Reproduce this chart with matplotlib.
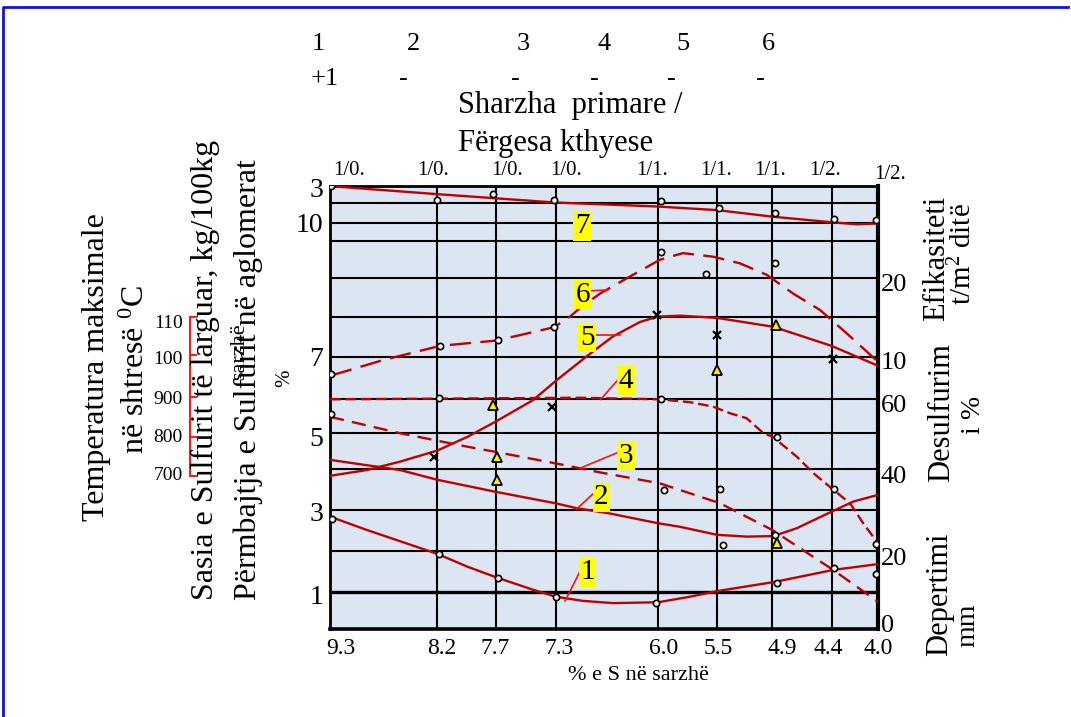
import matplotlib.pyplot as plt

plt.rcParams['font.family'] = ['Liberation Serif', 'DejaVu Serif']
plt.rcParams['mathtext.fontset'] = 'custom'
plt.rcParams['mathtext.rm'] = 'Liberation Serif'
plt.rcParams['mathtext.it'] = 'Liberation Serif:italic'

# --- data (x and y in plot units, 0..100 across the grid) ---
s_labels = ['9.3', '8.2', '7.7', '7.3', '6.0', '5.5', '4.9', '4.4', '4.0']
s_pos = [2.0, 20.4, 30.1, 41.8, 60.8, 70.8, 82.5, 90.9, 100]
ratio_labels = ['1/0.', '1/0.', '1/0.', '1/0.', '1/1.', '1/1.', '1/1.', '1/2.', '1/2.']
ratio_pos = [3.5, 18.8, 32.3, 43.1, 58.8, 70.4, 80.3, 90.3, 102.2]
charge_nums = ['1', '2', '3', '4', '5', '6']
charge_signs = ['+1', '-', '-', '-', '-', '-']
left_labels = ['3', '10', '7', '5', '3', '1']
left_pos = [99.5, 91.8, 61.4, 43.5, 26.5, 7.8]
right_labels = ['20', '10', '60', '40', '20', '0']
right_pos = [78.1, 60.7, 51.0, 34.8, 16.3, 1.4]
temp_labels = ['110', '100', '900', '800', '700']

x_grid = [19.5, 30.3, 41.2, 59.9, 70.6, 80.7, 91.6]
y_grid = [17.65, 26.89, 36.14, 44.18, 51.85, 61.45, 70.47, 79.13, 87.60, 91.66, 96.17]
y_bold = 8.34

c7_x = [0, 19.5, 41.2, 45.6, 59.9, 70.6, 80.9, 91.6, 96.2, 100]
c7_y = [99.9, 98.1, 96.2, 96.0, 95.3, 94.5, 93.0, 91.75, 91.3, 91.5]
c6_x = [0.2, 9.7, 20.1, 30.4, 40.9, 43.8, 45.6, 49.3, 54.7, 60.2, 64.4, 69.9, 74.8, 79.7, 84.5, 89.4, 94.3, 100]
c6_y = [57.2, 60.7, 63.9, 65.1, 68.1, 70.5, 72.4, 75.7, 79.5, 83.3, 84.8, 84.0, 82.5, 79.9, 75.7, 72.0, 66.7, 60.3]
c5_x = [0, 6.7, 12.8, 19.6, 25.1, 30.2, 37.1, 41.2, 46.8, 51.6, 56.6, 59.9, 63.9, 70.6, 80.9, 91.5, 100]
c5_y = [34.6, 35.9, 37.8, 40.3, 43.4, 46.8, 51.7, 56.0, 61.5, 66.0, 69.3, 70.5, 70.7, 70.2, 68.2, 63.9, 59.4]
c4_x = [0, 45.6, 60.2, 65.7, 69.9, 73.0, 76.0, 79.1, 80.8, 85.2, 88.2, 91.9, 94.9, 97.3, 100]
c4_y = [51.85, 52.2, 51.85, 51.2, 50.2, 48.7, 47.6, 44.2, 43.4, 38.9, 35.2, 31.4, 28.4, 23.9, 19.4]
c3_x = [0, 12.8, 24.9, 30.2, 41.2, 45.6, 48.7, 60.2, 71.2, 80.7, 88.1, 91.8, 100]
c3_y = [47.9, 44.2, 41.2, 40.0, 37.4, 36.3, 35.5, 32.9, 28.4, 22.4, 16.4, 13.4, 6.2]
c2_x = [0, 12.8, 19.6, 30.2, 41.2, 45.0, 51.1, 59.9, 63.9, 70.6, 76.0, 80.9, 85.2, 91.5, 95.5, 100]
c2_y = [38.2, 35.9, 33.7, 31.0, 28.4, 27.3, 26.1, 23.9, 23.1, 21.3, 20.9, 21.0, 22.8, 26.5, 28.8, 30.3]
c1_x = [0, 6.7, 19.6, 25.1, 30.6, 37.1, 41.2, 46.2, 51.7, 59.9, 65.7, 70.6, 81.2, 91.9, 100]
c1_y = [25.4, 22.4, 17.0, 14.1, 11.6, 8.9, 7.35, 6.4, 5.9, 6.1, 7.35, 8.6, 10.7, 13.4, 14.7]

circ_x = [0.2, 19.6, 29.7, 40.9, 60.4, 70.9, 81.2, 92.0, 99.6,
          0.2, 20.1, 30.6, 40.9, 60.4, 68.6, 81.2,
          19.8, 60.4, 81.5, 92.0, 99.6,
          0.2, 61.0, 71.2, 71.8, 81.2, 99.6,
          0.4, 19.8, 30.6, 41.2, 59.5, 81.5, 92.0]
circ_y = [100.0, 96.8, 98.1, 96.7, 96.6, 95.0, 93.8, 92.4, 92.3,
          57.5, 63.9, 65.2, 68.2, 85.0, 80.0, 82.6,
          52.1, 51.85, 43.3, 31.6, 19.2,
          48.5, 31.4, 31.6, 19.0, 21.3, 12.4,
          24.9, 17.0, 11.6, 7.2, 5.9, 10.4, 13.8]
cross_x = [18.9, 40.6, 59.6, 70.7, 91.7]
cross_y = [38.9, 50.0, 70.9, 66.3, 60.9]
tri_x = [29.8, 30.4, 30.4, 81.3, 70.7, 81.6]
tri_y = [50.6, 38.9, 33.7, 68.6, 58.5, 19.4]

curve_tags = ['7', '6', '5', '4', '3', '2', '1']
tag_xy = [(46.0, 90.9), (46.1, 75.4), (46.9, 65.7), (54.0, 56.0), (54.0, 39.1), (49.5, 29.8), (47.0, 12.9)]
leaders = [None, ((47.4, 50.7), (76.3, 76.5)), ((48.4, 52.9), (66.3, 66.3)),
           ((49.4, 52.8), (51.85, 56.6)), ((45.6, 52.8), (36.3, 40.0)),
           ((45.0, 48.4), (27.1, 31.0)), ((42.9, 45.6), (6.4, 13.0))]

W, H = 1071, 717
fig = plt.figure(figsize=(W / 100, H / 100), dpi=100)

# overlay in pixel units for the free text around the chart
lay = fig.add_axes([0, 0, 1, 1], zorder=0)
lay.set_xlim(0, W)
lay.set_ylim(H, 0)
lay.axis('off')
lay.plot([3, 3, 1068], [717, 7, 7], color='#1010ee', lw=2)

for t, x in zip(charge_nums, [318, 413, 523, 604, 683, 768]):
    lay.text(x, 44, t, fontsize=19, ha='center', va='center')
for t, x in zip(charge_signs, [325, 403, 515, 594, 671, 760]):
    lay.text(x, 79, t, fontsize=19, ha='center', va='center')
lay.text(458, 106, 'Sharzha  primare /', fontsize=22, ha='left', va='center')
lay.text(458, 144, 'Fërgesa kthyese', fontsize=22, ha='left', va='center')
lay.text(638, 675, '% e S në sarzhë', fontsize=16, ha='center', va='center')

rot = dict(rotation=90, ha='center', va='center', rotation_mode='anchor')
lay.text(97, 367, 'Temperatura maksimale', fontsize=23, **rot)
lay.text(136, 370, 'në shtresë $^{0}$C', fontsize=23, **rot)
lay.text(205, 370, 'Sasia e Sulfurit të larguar, kg/100kg', fontsize=23, **rot)
lay.text(240, 352, 'sarzhë', fontsize=16, **rot)
lay.text(248, 380, 'Përmbajtja e Sulfurit në aglomerat', fontsize=23, **rot)
lay.text(285, 378, '%', fontsize=15, **rot)
lay.text(937, 258, 'Efikasiteti', fontsize=22, **rot)
lay.text(963, 254, 't/m$^{2}$ ditë', fontsize=21, **rot)
lay.text(942, 413, 'Desulfurim', fontsize=22, **rot)
lay.text(974, 415, 'i %', fontsize=20, **rot)
lay.text(940, 594, 'Depertimi', fontsize=22, **rot)
lay.text(968, 625, 'mm', fontsize=20, **rot)

# small red temperature scale on the left
lay.plot([189.5, 189.5], [317, 476], color='#ff1a1a', lw=1.5)
for t, yt, yl in zip(temp_labels, [317, 355, 397, 437, 476], [323, 360, 399, 438, 475]):
    lay.plot([189.5, 196], [yt, yt], color='#ff1a1a', lw=1.5)
    lay.text(183, yl, t, fontsize=14, ha='right', va='center')

# main chart
ax = fig.add_axes([330 / W, 1 - 629.3 / H, 548 / W, 443.6 / H], zorder=2)
ax.set_facecolor('#dce6f2')
ax.set_xlim(0, 100)
ax.set_ylim(0, 100)
for xg in x_grid:
    ax.axvline(xg, color='black', lw=1.5, zorder=1)
for yg in y_grid:
    ax.axhline(yg, color='black', lw=1.5, zorder=1)
ax.axhline(y_bold, color='black', lw=2.4, zorder=1)
for side, lw in [('left', 2), ('top', 2), ('bottom', 2.6), ('right', 3)]:
    ax.spines[side].set_linewidth(lw)

red = '#c00000'
lw_c = 1.7
ax.plot(c7_x, c7_y, color=red, lw=lw_c, zorder=3)
ax.plot(c6_x, c6_y, color=red, lw=lw_c, dashes=(9, 4), zorder=3)
ax.plot(c5_x, c5_y, color=red, lw=lw_c, zorder=3)
ax.plot(c4_x, c4_y, color=red, lw=lw_c, dashes=(4.5, 2), zorder=3)
ax.plot(c3_x, c3_y, color=red, lw=lw_c, dashes=(6, 3.5), zorder=3)
ax.plot(c2_x, c2_y, color=red, lw=lw_c, zorder=3)
ax.plot(c1_x, c1_y, color=red, lw=lw_c, zorder=3)

ax.plot(circ_x, circ_y, 'o', ms=4.5, mfc='#fff8ee', mec='black', mew=1.2, zorder=5)
ax.plot(cross_x, cross_y, 'x', ms=6, color='black', mew=1.6, zorder=5)
ax.plot(tri_x, tri_y, '^', ms=6.5, mfc='#ffee00', mec='black', mew=1.3, zorder=5)

for tag, (tx, ty), ld in zip(curve_tags, tag_xy, leaders):
    if ld is not None:
        ax.plot(ld[0], ld[1], color='#ff1010', lw=1.2, zorder=4)
    ax.text(tx, ty, tag, fontsize=21, ha='center', va='center', zorder=6,
            bbox=dict(boxstyle='square,pad=0.05', fc='#ffff00', ec='none'))

ax.set_xticks(s_pos)
ax.set_xticklabels(s_labels, fontsize=17)
ax.tick_params(axis='x', length=0, pad=6)
ax.set_yticks(left_pos)
ax.set_yticklabels(left_labels, fontsize=20)
ax.tick_params(axis='y', length=0, pad=5)

ax2 = ax.twinx()
ax2.set_ylim(0, 100)
ax2.set_yticks(right_pos)
ax2.set_yticklabels(right_labels, fontsize=19)
ax2.tick_params(axis='y', length=0, pad=2)
for s in ax2.spines.values():
    s.set_visible(False)

for t, xr in zip(ratio_labels, ratio_pos):
    yr = 1.025 if xr > 100 else 1.035
    ax.text(xr, yr, t, fontsize=15, ha='center', va='center',
            transform=ax.get_xaxis_transform(), clip_on=False)

fig.savefig('out.png', dpi=100)
